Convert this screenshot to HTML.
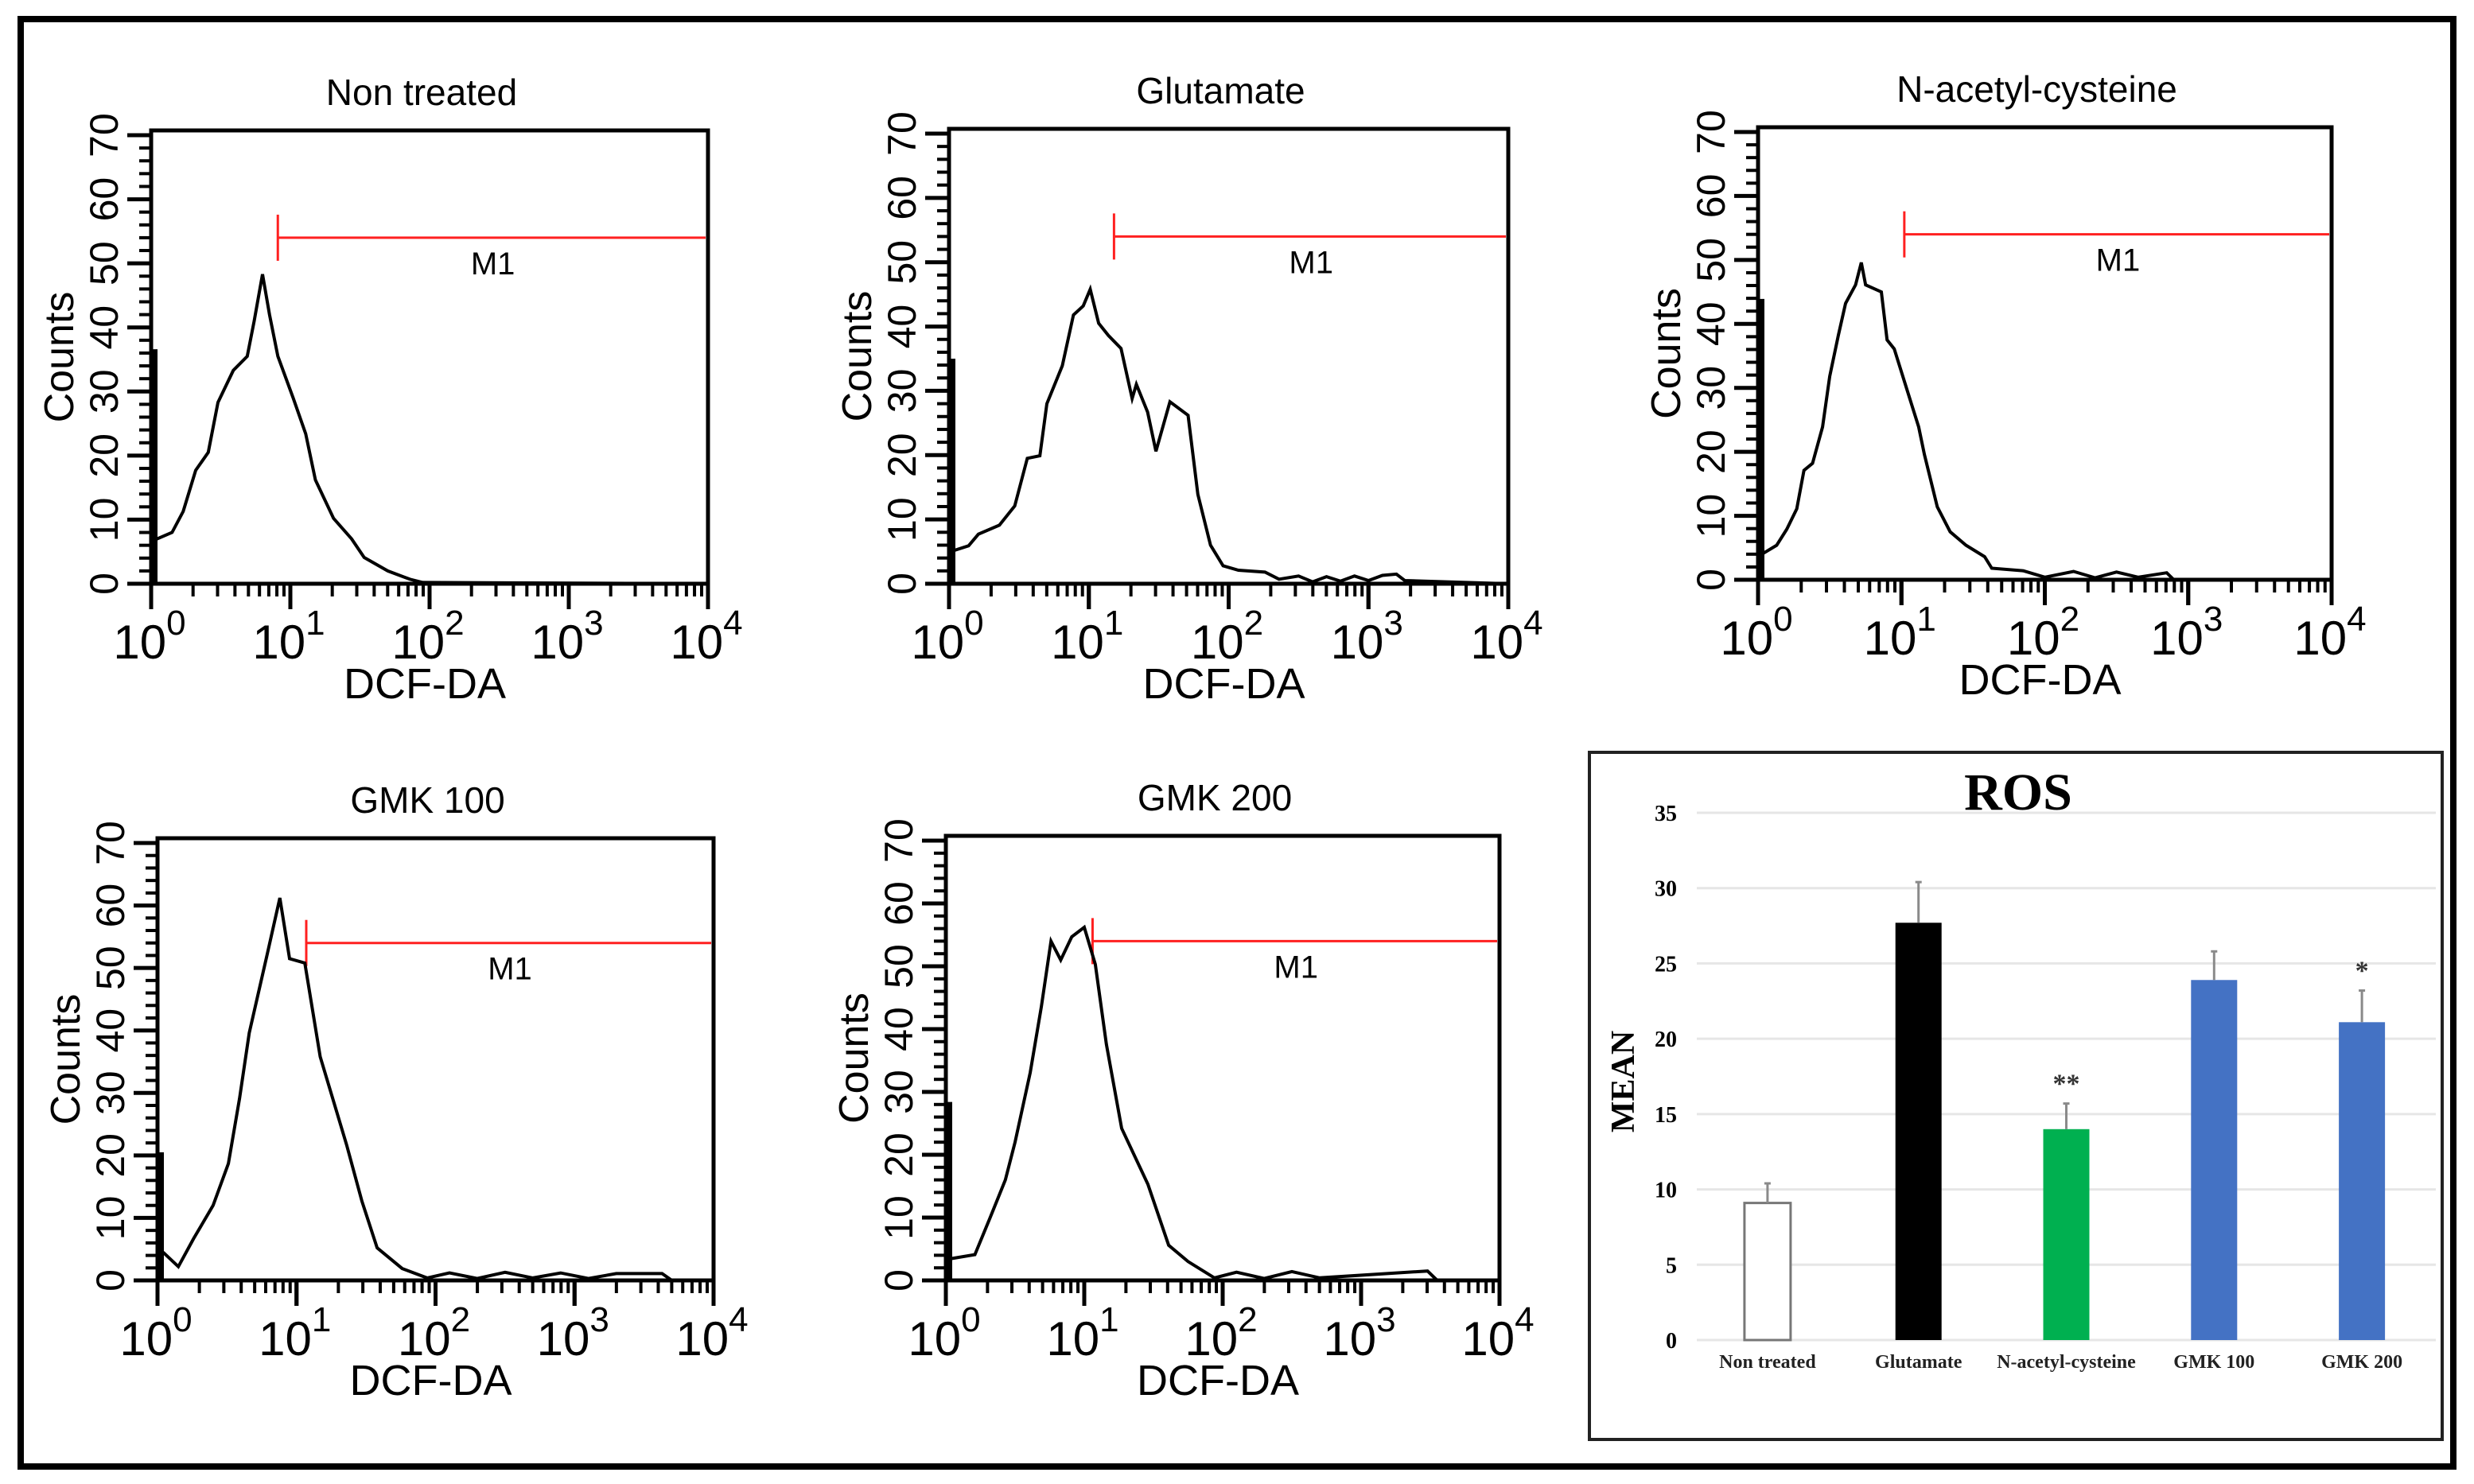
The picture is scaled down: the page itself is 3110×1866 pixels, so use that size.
<!DOCTYPE html>
<html><head><meta charset="utf-8"><style>
html,body{margin:0;padding:0;background:#fff}
svg{display:block}
text{font-family:"Liberation Sans",sans-serif}
.serif{font-family:"Liberation Serif",serif;font-weight:bold}
</style></head><body>
<svg id="fig" width="3110" height="1866" viewBox="0 0 3110 1866" xmlns="http://www.w3.org/2000/svg">
<rect x="26" y="24" width="3058" height="1820" fill="none" stroke="#000" stroke-width="8"/>
<g id="hists"></g>
<g id="bars"></g>
</svg>
<script>
// ---------- Histogram data (log10 DCF-DA intensity, counts) ----------
const histTitles = ["Non treated","Glutamate","N-acetyl-cysteine","GMK 100","GMK 200"];
const h1x = [0,0.15,0.23,0.32,0.41,0.48,0.59,0.69,0.74,0.80,0.85,0.91,1.02,1.11,1.18,1.31,1.44,1.53,1.70,1.86,1.95,4];
const h1y = [6.6,8,11.3,17.7,20.5,28.3,33.3,35.5,41,48.3,42,35.5,29,23.4,16.2,10.2,7,4.1,2,0.7,0.2,0];
const h2x = [0.01,0.14,0.21,0.36,0.47,0.56,0.65,0.70,0.81,0.89,0.96,1.01,1.07,1.14,1.23,1.31,1.34,1.42,1.48,1.58,1.71,1.78,1.87,1.96,2.07,2.26,2.36,2.5,2.6,2.7,2.8,2.9,3.0,3.1,3.2,3.26,4];
const h2y = [5,5.9,7.7,9.1,12.1,19.5,19.9,28,33.9,41.8,43.2,45.8,40.5,38.6,36.6,28.8,31,26.7,20.6,28.3,26.2,13.9,6,2.8,2.1,1.8,0.7,1.2,0.3,1.1,0.4,1.2,0.5,1.3,1.5,0.5,0];
const h3x = [0.02,0.13,0.20,0.27,0.32,0.38,0.45,0.50,0.56,0.61,0.68,0.72,0.75,0.86,0.90,0.95,1.04,1.12,1.16,1.25,1.34,1.45,1.58,1.63,1.85,2.0,2.2,2.35,2.5,2.65,2.85,2.9,4];
const h3y = [3.9,5.4,7.9,11.1,17.1,18.2,23.9,31.8,38.2,43.2,46.1,49.6,46.1,45,37.5,36.1,29.6,23.9,19.6,11.4,7.5,5.4,3.6,1.8,1.4,0.4,1.3,0.3,1.2,0.4,1.1,0,0];
const h4x = [0.04,0.15,0.26,0.40,0.51,0.59,0.66,0.79,0.88,0.95,1.06,1.17,1.36,1.47,1.58,1.76,1.94,2.1,2.3,2.5,2.7,2.9,3.1,3.3,3.63,3.7,4];
const h4y = [4.5,2.2,6.7,12,18.7,29.1,39.6,52.3,61.2,51.5,50.8,35.8,21.7,12.7,5.2,1.9,0.4,1.2,0.3,1.3,0.4,1.2,0.3,1.1,1.1,0,0];
const h5x = [0.02,0.21,0.32,0.43,0.50,0.61,0.69,0.76,0.83,0.91,1.0,1.08,1.16,1.27,1.46,1.61,1.75,1.94,2.1,2.3,2.5,2.7,3.48,3.55,4];
const h5y = [3.4,4.1,10,16,22,33.1,43.6,54,51,54.7,56.2,50.3,37.6,24.2,15.3,5.6,3,0.4,1.3,0.3,1.4,0.4,1.5,0,0];
const gateX = [0.91,1.18,1.02,1.07,1.06];   // log10 gate start
const gateY = [54,54,54,54,54];
const yTickLabels = ["0","10","20","30","40","50","60","70"];
const xDecades = [0,1,2,3,4];

const histX = [h1x,h2x,h3x,h4x,h5x];
const histY = [h1y,h2y,h3y,h4y,h5y];
const boxes = [
  {l:190,r:890,t:164,b:734},
  {l:1193,r:1896,t:162,b:734},
  {l:2210,r:2931,t:160,b:729},
  {l:198,r:897,t:1054,b:1610},
  {l:1189,r:1885,t:1051,b:1610}
];

// ---------- Bar chart data ----------
const barCats = ["Non treated","Glutamate","N-acetyl-cysteine","GMK 100","GMK 200"];
const barVals = [9.1,27.7,14.0,23.9,21.1];
const barErr = [1.3,2.7,1.7,1.9,2.1];
const barSig = ["","","**","","*"];
const barTicks = [0,5,10,15,20,25,30,35];

const NS="http://www.w3.org/2000/svg";
function mk(tag, attrs, parent){const e=document.createElementNS(NS,tag);for(const k in attrs)e.setAttribute(k,attrs[k]);parent.appendChild(e);return e;}

const hg=document.getElementById('hists');
for(let i=0;i<5;i++){
  const B=boxes[i];
  const sx=v=>B.l+(B.r-B.l)*v/4;
  const sy=v=>B.b-(B.b-B.t-6)*v/70;
  const g=mk('g',{},hg);
  
  
  const fr=mk('rect',{x:B.l,y:B.t,width:B.r-B.l,height:B.b-B.t,fill:'none',stroke:'#000','stroke-width':5},g);
  
  
  for(let v=0;v<=70;v+=2){
    const maj=v%10===0;
    const t=mk('line',{x1:B.l,x2:B.l-(maj?30:15),y1:sy(v),y2:sy(v),stroke:'#000','stroke-width':maj?5:4},g);
    
    
  }
  yTickLabels.forEach((s,k)=>{
    const y=sy(+s);
    const tx=mk('text',{x:0,y:0,'font-size':50,'text-anchor':'middle',transform:`translate(${B.l-42},${y}) rotate(-90)`},g);
    tx.textContent=s;
    
    
  });
  const yl=mk('text',{x:0,y:0,'font-size':52,'text-anchor':'middle',transform:`translate(${B.l-98},${(B.t+B.b)/2}) rotate(-90)`},g);
  yl.textContent='Counts';
  
  
  for(let d=0;d<4;d++){
    for(let m=1;m<=9;m++){
      const lv=d+Math.log10(m);
      const t=mk('line',{x1:sx(lv),x2:sx(lv),y1:B.b,y2:B.b+(m===1?32:16),stroke:'#000','stroke-width':m===1?5:4},g);
      
      
    }
  }
  xDecades.forEach(d=>{
    const t=mk('line',{x1:sx(d),x2:sx(d),y1:B.b,y2:B.b+32,stroke:'#000','stroke-width':5},g);
    
    
    const tx=mk('text',{x:sx(d)-2,y:B.b+94,'font-size':60,'text-anchor':'middle'},g);
    
    
    tx.appendChild(document.createTextNode('10'));
    const sp=mk('tspan',{'font-size':44,dy:-30},tx);
    sp.textContent=String(d);
  });
  const xl=mk('text',{x:(B.l+B.r)/2-6,y:B.b+144,'font-size':54,'text-anchor':'middle'},g);
  xl.textContent='DCF-DA';
  
  
  const tt=mk('text',{x:(B.l+B.r)/2+(i===2?-10:-10),y:B.t-32,'font-size':46,'text-anchor':'middle'},g);
  tt.textContent=histTitles[i];
  
  
  const gx=sx(gateX[i]), gy=sy(gateY[i]);
  const gl=mk('line',{x1:gx,x2:B.r-3,y1:gy,y2:gy,stroke:'#ff2020','stroke-width':3},g);
  
  
  const gt=mk('line',{x1:gx,x2:gx,y1:gy-29,y2:gy+29,stroke:'#ff2020','stroke-width':3},g);
  
  
  const ml=mk('text',{x:(gx+B.r)/2,y:gy+46,'font-size':40,'text-anchor':'middle'},g);
  ml.textContent='M1';
  
  
  const xs=histX[i], ys=histY[i];
  let pts=[];
  for(let k=0;k<xs.length;k++){pts.push(sx(xs[k]).toFixed(1)+','+sy(ys[k]).toFixed(1));}
  const pl=mk('polyline',{points:pts.join(' '),fill:'none',stroke:'#000','stroke-width':4,'stroke-linejoin':'miter'},g);
  
  
  const lb=mk('line',{x1:B.l+5,x2:B.l+5,y1:B.b,y2:sy(ys[0]+(i===3?16:i===4?25:i===2?40:30)),stroke:'#000','stroke-width':6},g);
  
  
}

// ---------- Bar chart ----------
const bg=document.getElementById('bars');
const box=mk('rect',{x:1998,y:946,width:1072,height:864,fill:'#fff',stroke:'#222','stroke-width':4},bg);


const gL=2133,gR=3062,y0=1685,y35=1022;
const by=v=>y0-(y0-y35)*v/35;
const bandW=(gR-gL)/barCats.length;
const bx=i=>gL+bandW*(i+0.5)-(i===0?4:0);
barTicks.forEach(v=>{
  const l=mk('line',{x1:gL,x2:gR,y1:by(v),y2:by(v),stroke:'#e6e6e6','stroke-width':3},bg);
  
  
  const t=mk('text',{x:2108,y:by(v)+10,'font-size':28,'text-anchor':'end',class:'serif'},bg);
  t.textContent=String(v);
  
  
});
const fills=['#ffffff','#000000','#00b050','#4472c4','#4472c4'];
barVals.forEach((v,i)=>{
  const cx=bx(i), w=58;
  const r=mk('rect',{x:cx-w/2,y:by(v),width:w,height:y0-by(v),fill:fills[i],stroke:i===0?'#777':'none','stroke-width':3},bg);
  
  
  const e=mk('line',{x1:cx,x2:cx,y1:by(v),y2:by(v+barErr[i]),stroke:'#8a8a8a','stroke-width':3},bg);
  
  
  const c=mk('line',{x1:cx-4,x2:cx+4,y1:by(v+barErr[i]),y2:by(v+barErr[i]),stroke:'#8a8a8a','stroke-width':3},bg);
  
  
  if(barSig[i]){
    const s=mk('text',{x:cx,y:by(v+barErr[i])-14,'font-size':34,'text-anchor':'middle',class:'serif',fill:'#333'},bg);
    s.textContent=barSig[i];
    
    
  }
  const lt=mk('text',{x:cx,y:1720,'font-size':24,'text-anchor':'middle',class:'serif',fill:'#222'},bg);
  lt.textContent=barCats[i];
  
  
});
const ros=mk('text',{x:2537,y:1018,'font-size':66,'text-anchor':'middle',class:'serif'},bg);
ros.textContent='ROS';


const mean=mk('text',{x:0,y:0,'font-size':42,'text-anchor':'middle',class:'serif',transform:'translate(2054,1360) rotate(-90)'},bg);
mean.textContent='MEAN';


</script>
</body></html>
